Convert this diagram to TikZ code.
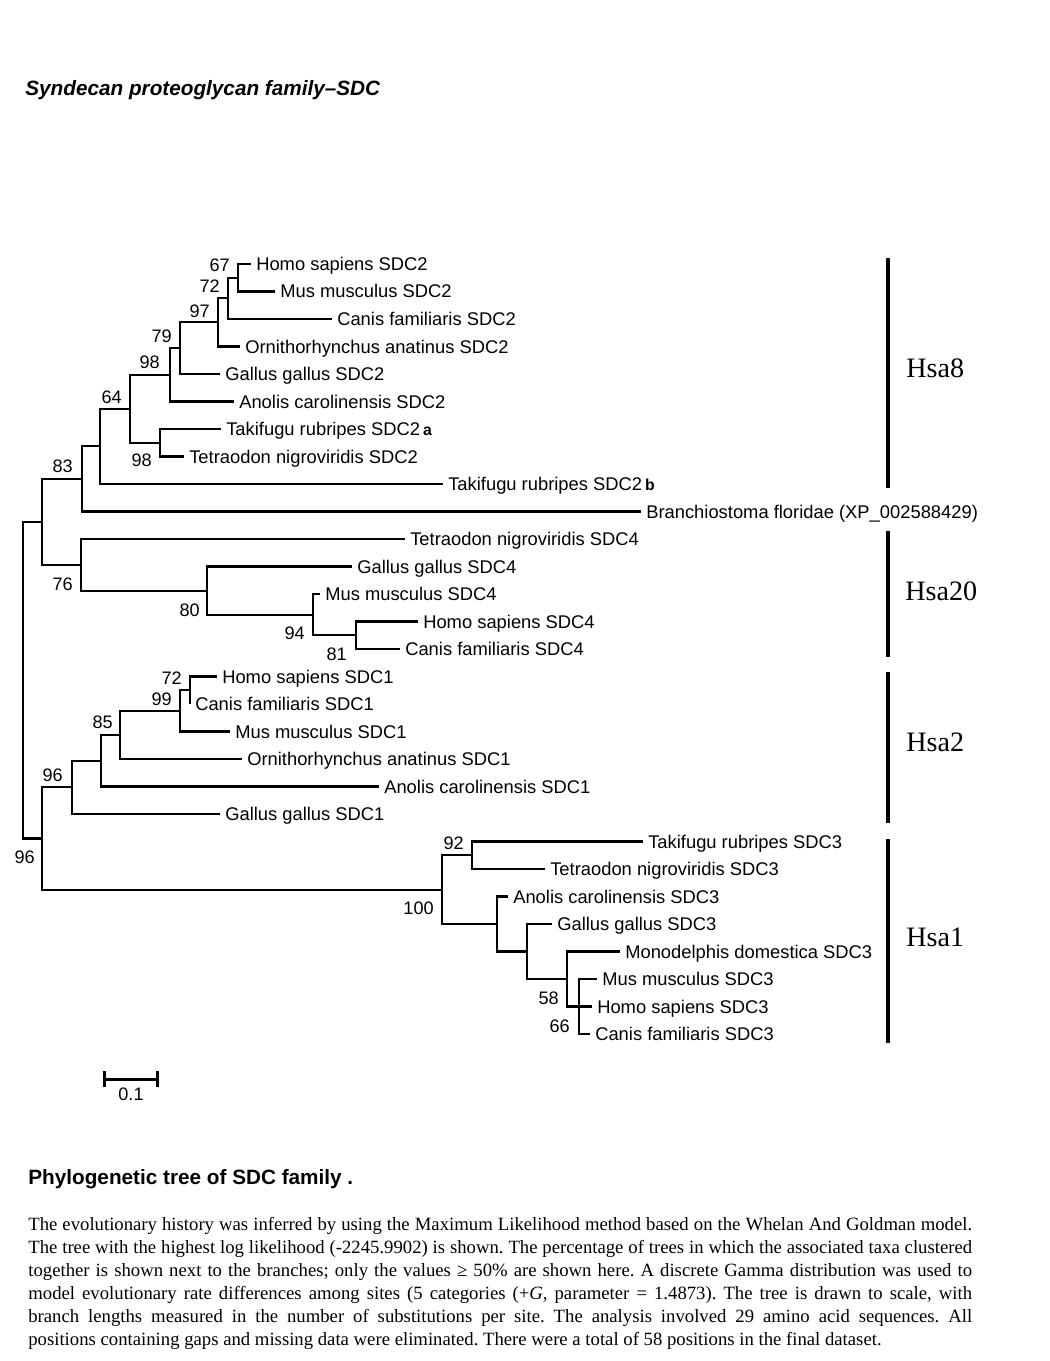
\documentclass[tikz,border=0pt]{standalone}
\usepackage{fontspec}
\setmainfont{Liberation Sans}
\newfontfamily\capfont{Liberation Serif}
\usepackage{tikz}
\usetikzlibrary{arrows.meta}
\usetikzlibrary{positioning}
\tikzstyle{branch}=[line width=1.2pt]
\tikzstyle{leaf}=[anchor=west,inner xsep=2.8pt,inner ysep=0pt,text height=7.4pt,text depth=0pt,font=\fontsize{10.45}{12}\selectfont]
\tikzstyle{boot}=[anchor=east,inner sep=0pt,text height=7.4pt,text depth=0pt,font=\fontsize{10.3}{12}\selectfont]
\tikzstyle{chrom}=[line width=2.3pt]
\tikzstyle{chromlabel}=[anchor=west,inner sep=0pt,font=\capfont\fontsize{16}{18}\selectfont]
\newcommand{\sdctag}[1]{\,{\bfseries\fontsize{9}{10}\selectfont #1}}

\begin{document}
\begin{tikzpicture}[x=0.02cm,y=-0.02cm]
\useasboundingbox (0,0) rectangle (1049,1361);

\node[anchor=base west,inner sep=0pt,font=\bfseries\itshape\fontsize{11.8}{14}\selectfont] (title) at (25,96) {Syndecan proteoglycan family--SDC};

% taxa
\node[leaf] (h2) at (251,264) {Homo sapiens SDC2};
\node[leaf] (m2) at (275,291.5) {Mus musculus SDC2};
\node[leaf] (c2) at (332,319) {Canis familiaris SDC2};
\node[leaf] (o2) at (240,346.5) {Ornithorhynchus anatinus SDC2};
\node[leaf] (g2) at (220,374) {Gallus gallus SDC2};
\node[leaf] (a2) at (234,401.5) {Anolis carolinensis SDC2};
\node[leaf] (ta2) at (221,429) {Takifugu rubripes SDC2\sdctag{a}};
\node[leaf] (tn2) at (184,456.5) {Tetraodon nigroviridis SDC2};
\node[leaf] (tb2) at (443,484) {Takifugu rubripes SDC2\sdctag{b}};
\node[leaf] (bf) at (641,511.5) {Branchiostoma floridae (XP\_002588429)};
\node[leaf] (tn4) at (405,539) {Tetraodon nigroviridis SDC4};
\node[leaf] (g4) at (352,566.5) {Gallus gallus SDC4};
\node[leaf] (m4) at (320,594) {Mus musculus SDC4};
\node[leaf] (h4) at (418,621.5) {Homo sapiens SDC4};
\node[leaf] (c4) at (400,649) {Canis familiaris SDC4};
\node[leaf] (h1) at (217,676.5) {Homo sapiens SDC1};
\node[leaf] (c1) at (190,704) {Canis familiaris SDC1};
\node[leaf] (m1) at (230,731.5) {Mus musculus SDC1};
\node[leaf] (o1) at (242,759) {Ornithorhynchus anatinus SDC1};
\node[leaf] (a1) at (379,786.5) {Anolis carolinensis SDC1};
\node[leaf] (g1) at (220,814) {Gallus gallus SDC1};
\node[leaf] (t3) at (643,841.5) {Takifugu rubripes SDC3};
\node[leaf] (tn3) at (545,869) {Tetraodon nigroviridis SDC3};
\node[leaf] (a3) at (508,896.5) {Anolis carolinensis SDC3};
\node[leaf] (g3) at (552,924) {Gallus gallus SDC3};
\node[leaf] (md3) at (620,951.5) {Monodelphis domestica SDC3};
\node[leaf] (m3) at (597,979) {Mus musculus SDC3};
\node[leaf] (h3) at (592,1006.5) {Homo sapiens SDC3};
\node[leaf] (c3) at (590,1034) {Canis familiaris SDC3};

% inner nodes
\coordinate (n67) at (238,277.75);
\coordinate (n72) at (228,298.4);
\coordinate (n97) at (218,322.4);
\coordinate (n79) at (180,348.2);
\coordinate (n98) at (170,374.9);
\coordinate (nfish) at (160,442.75);
\coordinate (n64) at (130,408.8);
\coordinate (nsdc2) at (100,446.4);
\coordinate (n83) at (82,479);
\coordinate (n81) at (356,635.25);
\coordinate (n94) at (313,614.6);
\coordinate (n80) at (207,590.6);
\coordinate (n76) at (81,564.8);
\coordinate (nup) at (42,521.9);
\coordinate (n72b) at (190,690.25);
\coordinate (n99) at (180,710.9);
\coordinate (n85) at (120,735);
\coordinate (nan1) at (101,760.7);
\coordinate (n96b) at (72,787.4);
\coordinate (n92) at (472,855.25);
\coordinate (n66) at (579,1006.5);
\coordinate (n58) at (567,979);
\coordinate (ng3) at (527,951.5);
\coordinate (na3) at (497,924);
\coordinate (n100) at (442,889.6);
\coordinate (nlow) at (42,838.5);
\coordinate (root) at (23,680.2);

\foreach \a/\b in {n67/h2.west,n67/m2.west,n72/n67,n72/c2.west,n97/n72,n97/o2.west,
    n79/n97,n79/g2.west,n98/n79,n98/a2.west,nfish/ta2.west,nfish/tn2.west,
    n64/n98,n64/nfish,nsdc2/n64,nsdc2/tb2.west,n83/nsdc2,n83/bf.west,
    n81/h4.west,n81/c4.west,n94/m4.west,n94/n81,n80/g4.west,n80/n94,
    n76/tn4.west,n76/n80,nup/n83,nup/n76,
    n72b/h1.west,n72b/c1.west,n99/n72b,n99/m1.west,n85/n99,n85/o1.west,
    nan1/n85,nan1/a1.west,n96b/nan1,n96b/g1.west,
    n92/t3.west,n92/tn3.west,n66/m3.west,n66/h3.west,n66/c3.west,
    n58/md3.west,n58/n66,ng3/g3.west,ng3/n58,na3/a3.west,na3/ng3,
    n100/n92,n100/na3,nlow/n96b,nlow/n100,root/nup,root/nlow}
  \draw[branch] (\a) |- (\b);

% bootstrap values
\node[boot] (b67) at (230,265) {67};
\node[boot] (b72) at (220,286) {72};
\node[boot] (b97) at (210,311) {97};
\node[boot] (b79) at (172,336) {79};
\node[boot] (b98) at (160,362) {98};
\node[boot] (b64) at (122,397) {64};
\node[boot] (b98f) at (152,460) {98};
\node[boot] (b83) at (73,466) {83};
\node[boot] (b76) at (73,584) {76};
\node[boot] (b80) at (200,610) {80};
\node[boot] (b94) at (305,633) {94};
\node[boot] (b81) at (347,654) {81};
\node[boot] (b72s) at (182,678) {72};
\node[boot] (b99) at (172,699) {99};
\node[boot] (b85) at (113,722) {85};
\node[boot] (b96) at (63,775) {96};
\node[boot] (b96r) at (35,857) {96};
\node[boot] (b92) at (464,843) {92};
\node[boot] (b100) at (434,908) {100};
\node[boot] (b58) at (559,998) {58};
\node[boot] (b66) at (570,1026) {66};

% chromosomes
\draw[chrom] (888,258) -- (888,488);
\draw[chrom] (888,531) -- (888,657);
\draw[chrom] (888,672) -- (888,823);
\draw[chrom] (888,839) -- (888,1043);
\node[chromlabel] (hsa8) at (906,368) {Hsa8};
\node[chromlabel] (hsa20) at (905,591) {Hsa20};
\node[chromlabel] (hsa2) at (906,742) {Hsa2};
\node[chromlabel] (hsa1) at (906,937) {Hsa1};

% scale bar
\coordinate (sbl) at (103,1079);
\coordinate (sbr) at (159,1079);
\coordinate (sbmid) at (131,1079);
\draw[line width=1.7pt,{Bar[width=9pt]}-{Bar[width=9pt]}] (sbl) -- (sbr);
\node[inner sep=0pt,font=\fontsize{10.3}{12}\selectfont,below=5pt of sbmid] (sbtext) {0.1};

\node[anchor=base west,inner sep=0pt,font=\bfseries\fontsize{11.8}{14}\selectfont] (caphead) at (28,1184) {Phylogenetic tree of SDC family .};
\node[anchor=base west,inner sep=0pt,text width=18.88cm,align=justify,font=\capfont\fontsize{10.65}{13.15}\selectfont\frenchspacing] (captext) at (28,1230)
 {The evolutionary history was inferred by using the Maximum Likelihood method based on the Whelan And Goldman model.\linebreak
 The tree with the highest log likelihood (-2245.9902) is shown. The percentage of trees in which the associated taxa clustered\linebreak
 together is shown next to the branches; only the values ≥ 50\% are shown here. A discrete Gamma distribution was used to\linebreak
 model evolutionary rate differences among sites (5 categories (+\textit{G}, parameter = 1.4873). The tree is drawn to scale, with\linebreak
 branch lengths measured in the number of substitutions per site. The analysis involved 29 amino acid sequences. All\linebreak
 positions containing gaps and missing data were eliminated. There were a total of 58 positions in the final dataset.};
\end{tikzpicture}
\end{document}
